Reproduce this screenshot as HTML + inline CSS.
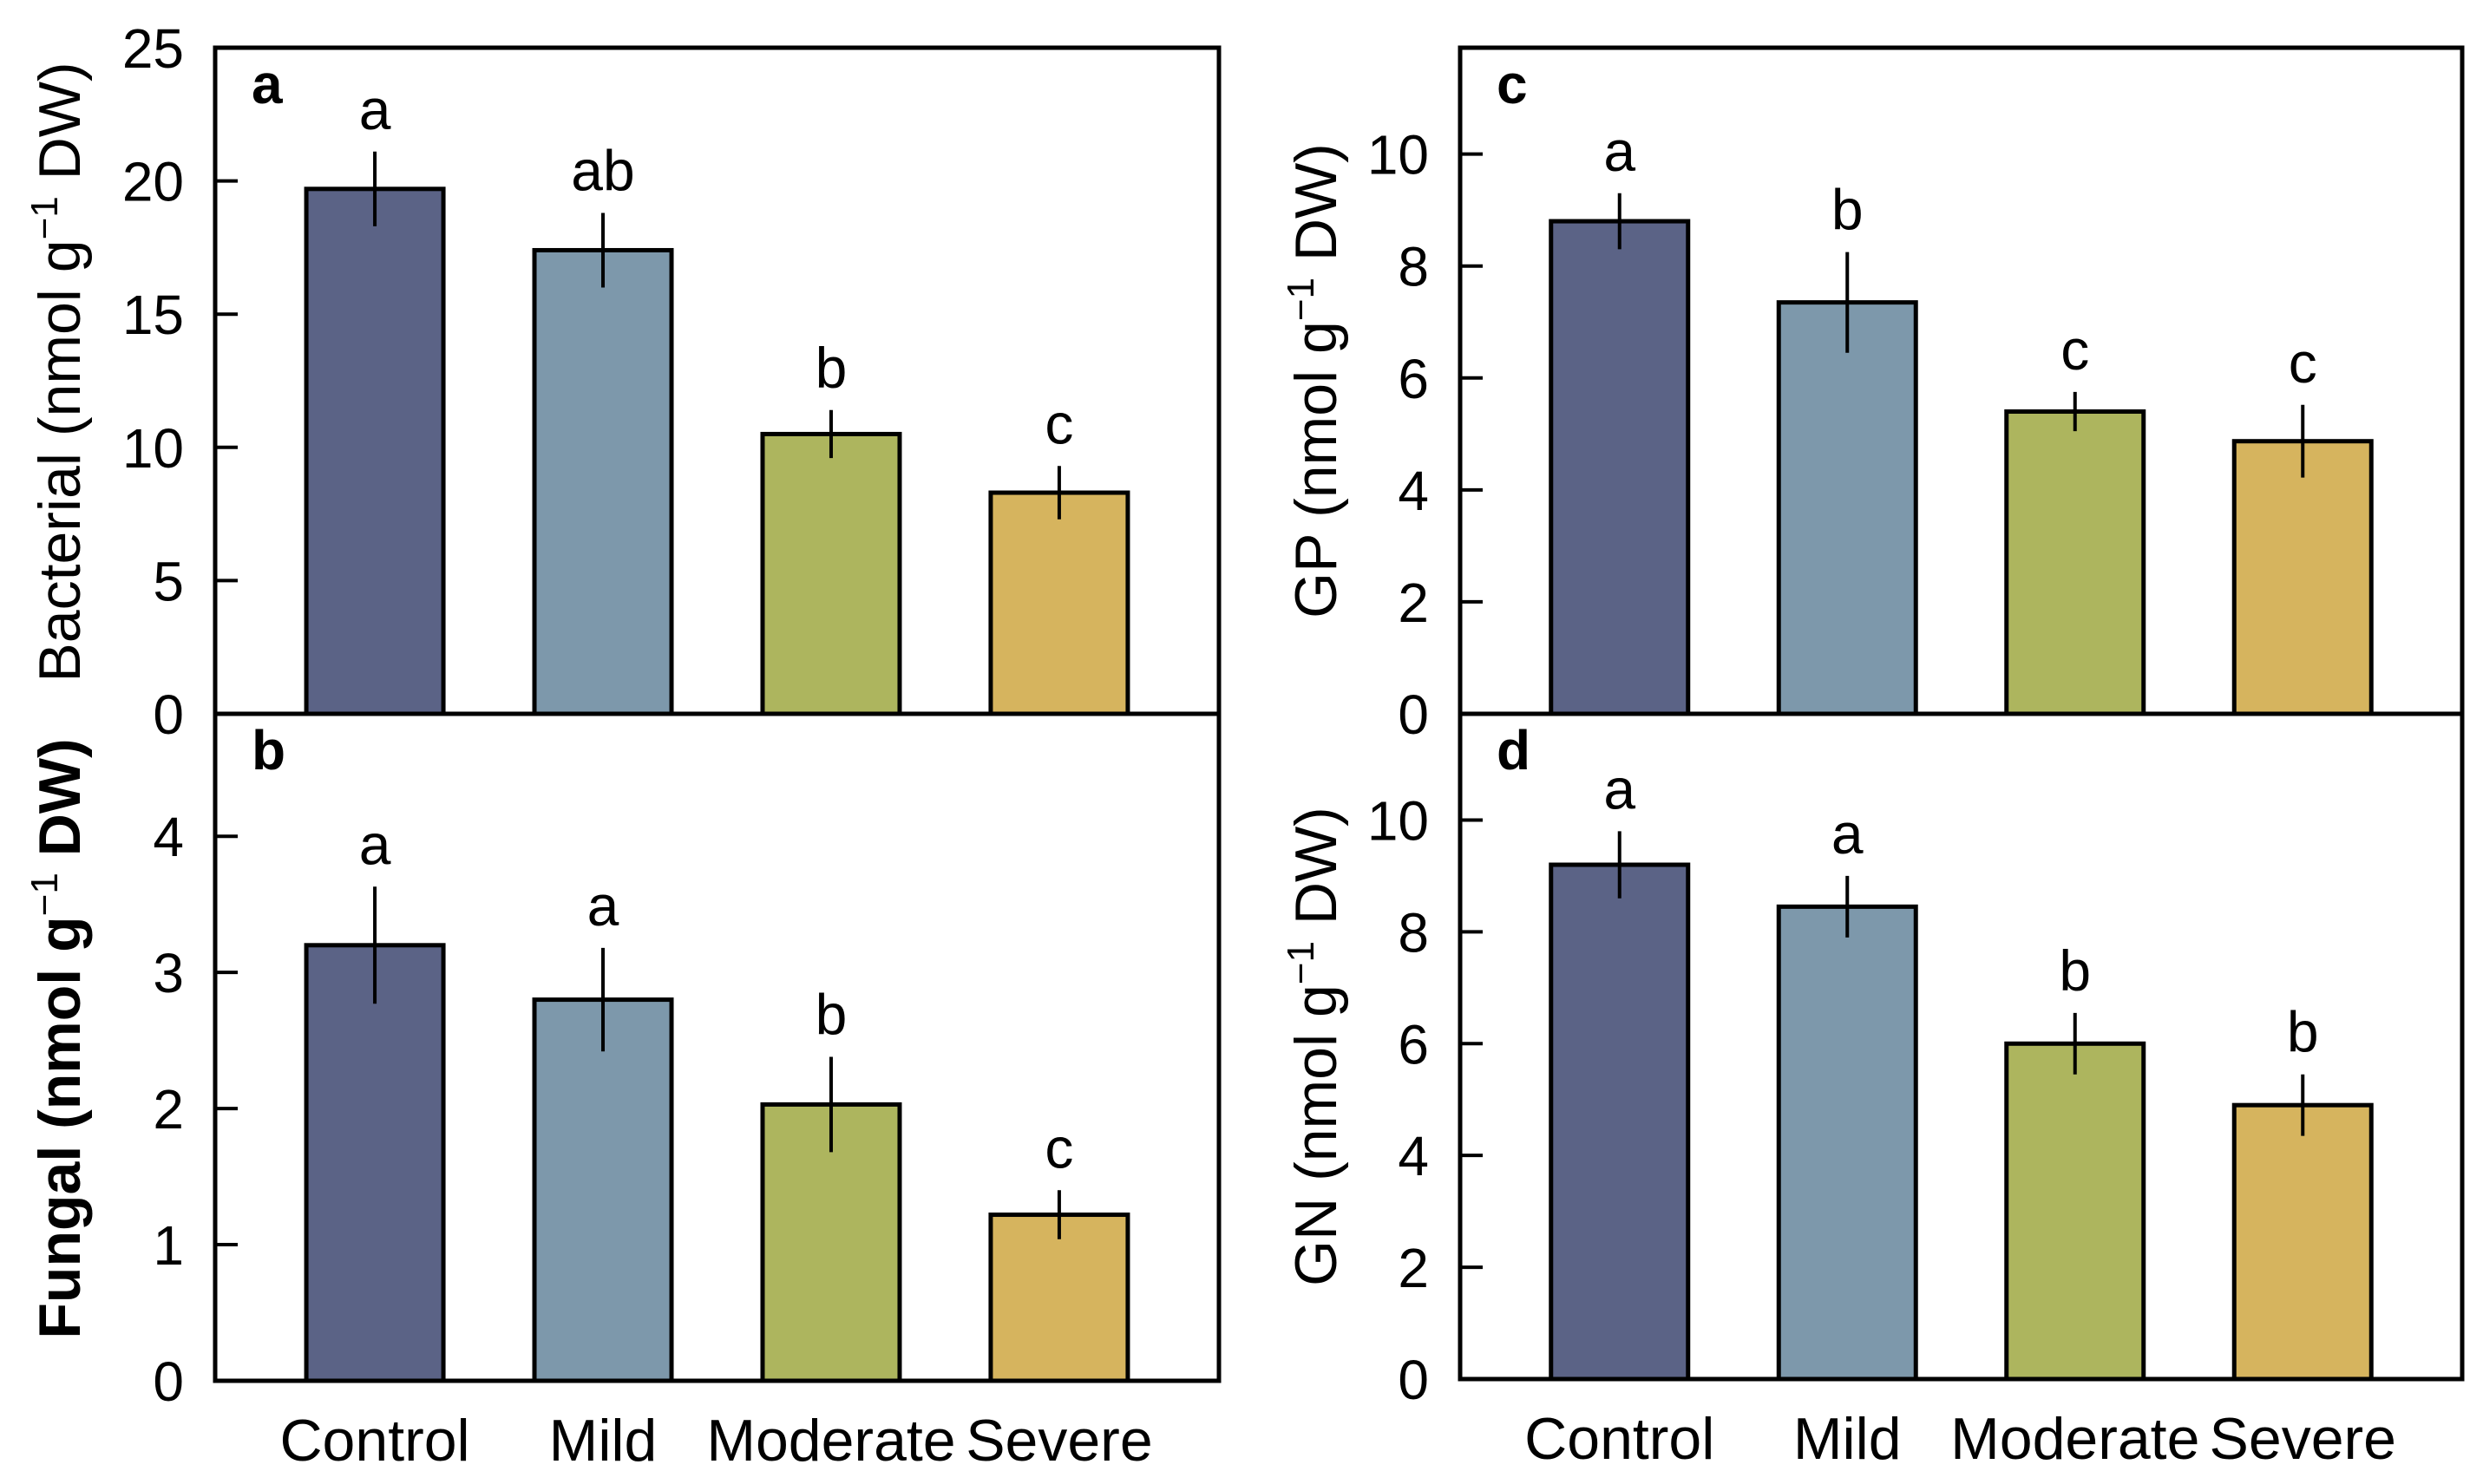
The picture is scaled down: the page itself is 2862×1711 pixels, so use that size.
<!DOCTYPE html>
<html><head><meta charset="utf-8"><style>
html,body{margin:0;padding:0;background:#fff;}
svg{display:block;font-family:"Liberation Sans",Arial,sans-serif;}
</style></head><body>
<svg id="fig" width="2862" height="1711" viewBox="0 0 2862 1711" xmlns="http://www.w3.org/2000/svg"></svg>
<script>
const categories = ["Control","Mild","Moderate","Severe"];
const bacterialValues = [19.7, 17.4, 10.5, 8.3];
const bacterialErrors = [1.4, 1.4, 0.9, 1.0];
const bacterialLetters = ["a","ab","b","c"];
const fungalValues = [3.2, 2.8, 2.03, 1.22];
const fungalErrors = [0.43, 0.38, 0.35, 0.18];
const fungalLetters = ["a","a","b","c"];
const gpValues = [8.8, 7.35, 5.4, 4.87];
const gpErrors = [0.5, 0.9, 0.35, 0.65];
const gpLetters = ["a","b","c","c"];
const gnValues = [9.2, 8.45, 6.0, 4.9];
const gnErrors = [0.6, 0.55, 0.55, 0.55];
const gnLetters = ["a","a","b","b"];
const bacterialTicks = [0,5,10,15,20,25];
const fungalTicks = [0,1,2,3,4];
const gpTicks = [0,2,4,6,8,10];
const gnTicks = [0,2,4,6,8,10];

const colors = ["#5b6386","#7d98ab","#adb55e","#d6b45e"];
const NS = "http://www.w3.org/2000/svg";
const svg = document.getElementById("fig");
function el(tag, attrs, parent, text){
  const e = document.createElementNS(NS, tag);
  for (const k in attrs) e.setAttribute(k, attrs[k]);
  if (text !== undefined) e.textContent = text;
  (parent||svg).appendChild(e);
  return e;
}

function panel(cfg){
  const g = el("g", {}, svg);
  
  
  const L=cfg.left, R=cfg.right, T=cfg.top, B=cfg.bottom;
  const y = v => B - (v/cfg.max)*(B-T);
  const step = (R-L)/4.4;
  const x = i => L + step*(0.7 + i);
  const bw = 158;
  cfg.values.forEach((v,i)=>{
    const r = el("rect",{x:x(i)-bw/2,y:y(v),width:bw,height:B-y(v),fill:colors[i],stroke:"#000","stroke-width":5},g);
    
    
    const e = cfg.errors[i];
    const ln = el("line",{x1:x(i),x2:x(i),y1:y(v-e),y2:y(v+e),stroke:"#000","stroke-width":4},g);
    
    
    const t = el("text",{x:x(i),y:y(v+e)-26,"font-size":66,"text-anchor":"middle"},g,cfg.letters[i]);
    
    
  });
  cfg.ticks.forEach(tv=>{
    const tk = el("line",{x1:L,x2:L+26,y1:y(tv),y2:y(tv),stroke:"#000","stroke-width":4},g);
    
    
    const tl = el("text",{x:L-36,y:y(tv)+23,"font-size":64,"text-anchor":"end"},g,String(tv));
    
    
  });
  const fr = el("rect",{x:L,y:T,width:R-L,height:B-T,fill:"none",stroke:"#000","stroke-width":5},g);
  
  
  const pl = el("text",{x:L+42,y:T+64,"font-size":64,"font-weight":"bold"},g,cfg.label);
  
  
  const tx = cfg.titleX, ty = (T+B)/2 + (cfg.dy||0);
  const tt = el("text",{x:tx,y:ty,"font-size":68,"text-anchor":"middle","font-weight":cfg.bold?"bold":"normal",transform:`rotate(-90 ${tx} ${ty})`},g);
  
  
  el("tspan",{},tt,cfg.title+" (nmol g");
  el("tspan",{dy:-26,"font-size":44,"font-weight":"normal"},tt,"\u22121");
  el("tspan",{dy:26},tt," DW)");
  if (cfg.xlabels){
    categories.forEach((c,i)=>{
      const xl = el("text",{x:x(i),y:B+92,"font-size":68,"text-anchor":"middle"},g,c);
      
      
    });
  }
}
panel({name:"panel-a-bacterial",label:"a",left:248,right:1405,top:55,bottom:823,max:25,ticks:bacterialTicks,values:bacterialValues,errors:bacterialErrors,letters:bacterialLetters,title:"Bacterial",titleX:92,bold:false,dy:-10});
panel({name:"panel-b-fungal",label:"b",left:248,right:1405,top:823,bottom:1592,max:4.9,ticks:fungalTicks,values:fungalValues,errors:fungalErrors,letters:fungalLetters,title:"Fungal ",titleX:92,bold:true,dy:-10});
panel({name:"panel-c-gp",label:"c",left:1683,right:2838,top:55,bottom:823,max:11.9,ticks:gpTicks,values:gpValues,errors:gpErrors,letters:gpLetters,title:"GP",titleX:1540,bold:false,dy:0});
panel({name:"panel-d-gn",label:"d",left:1683,right:2838,top:823,bottom:1590,max:11.9,ticks:gnTicks,values:gnValues,errors:gnErrors,letters:gnLetters,title:"GN",titleX:1540,bold:false});
// x labels drawn after (b and d)
(function(){})();
</script>
<script>
// add category labels under bottom panels
(function(){
  const NS2="http://www.w3.org/2000/svg";
  const s=document.getElementById("fig");
  [[248,1405,1592],[1683,2838,1590]].forEach(p=>{
    const step=(p[1]-p[0])/4.4;
    categories.forEach((c,i)=>{
      const t=document.createElementNS(NS2,"text");
      t.setAttribute("x",p[0]+step*(0.7+i));
      t.setAttribute("y",p[2]+92);
      t.setAttribute("font-size","68");
      t.setAttribute("text-anchor","middle");
      t.textContent=c;
      
      
      s.appendChild(t);
    });
  });
})();
</script>
</body></html>
